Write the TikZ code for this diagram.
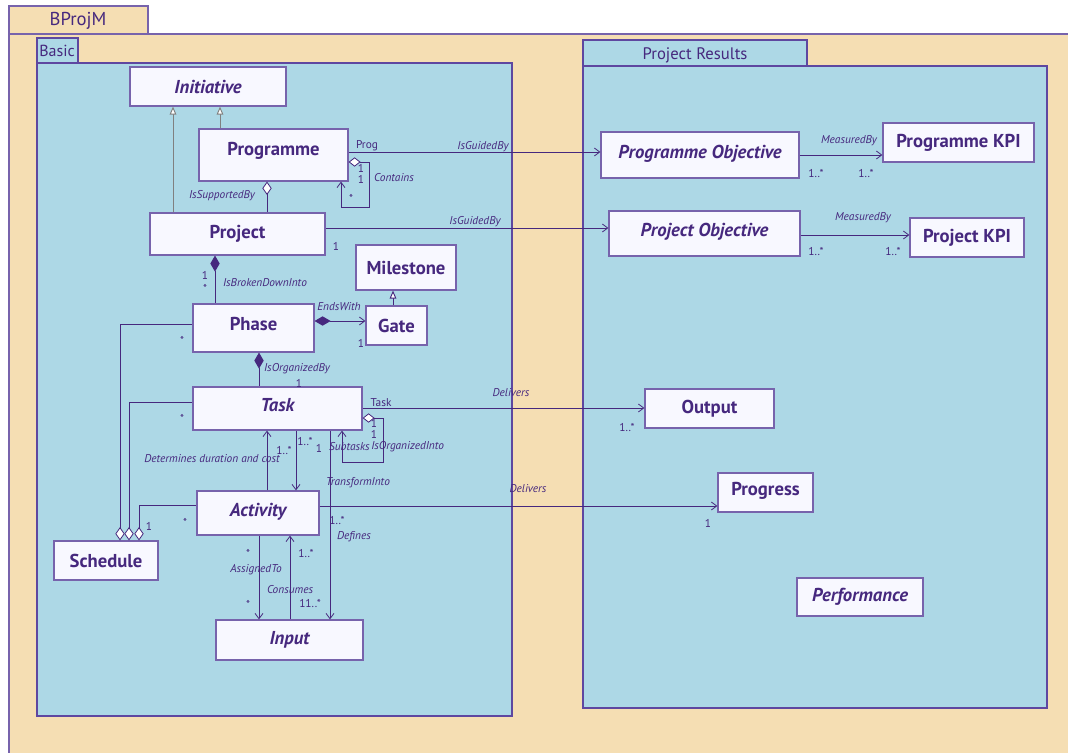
\documentclass[tikz,border=0pt]{standalone}
\usepackage{fontspec}
\setmainfont{PT Sans}
\usetikzlibrary{arrows.meta}
\definecolor{tanbg}{HTML}{F5DEB3}
\definecolor{pkgblue}{HTML}{ADD8E6}
\definecolor{clsfill}{HTML}{F8F8FF}
\definecolor{ink}{HTML}{46287E}
\definecolor{clsline}{HTML}{7763AC}
\definecolor{pkgline}{HTML}{5E47A0}

\begin{document}
\begin{tikzpicture}[x=0.75pt,y=-0.75pt,every node/.style={text=ink},
  cls/.style={draw=clsline,fill=clsfill,line width=0.9pt,inner sep=0pt,font=\fontsize{14}{16}\selectfont\bfseries},
  abscls/.style={cls,font=\fontsize{14}{16}\selectfont\bfseries\itshape},
  pkg/.style={draw=pkgline,fill=pkgblue,line width=0.8pt},
  pkgtitle/.style={inner sep=0pt,font=\fontsize{12.5}{14}\selectfont},
  lbl/.style={inner sep=0pt,font=\fontsize{8.5}{10}\selectfont\itshape},
  mult/.style={inner sep=0pt,font=\fontsize{8.5}{10}\selectfont},
  assoc/.style={draw=ink,line width=0.6pt,-{Straight Barb[length=4pt,width=6pt]}},
  gen/.style={draw=gray,line width=0.7pt,-{Triangle[open,fill=white,length=6pt,width=5pt]}},
  agg/.style={draw=ink,line width=0.6pt,{Diamond[open,fill=white,length=10pt,width=7pt]}-},
  aggnav/.style={draw=ink,line width=0.6pt,{Diamond[open,fill=white,length=9pt,width=7pt]}-{Straight Barb[length=4pt,width=6pt]}},
  comp/.style={draw=ink,line width=0.6pt,{Diamond[length=12pt,width=7pt]}-},
  compnav/.style={draw=ink,line width=0.6pt,{Diamond[length=12pt,width=7pt]}-{Straight Barb[length=4pt,width=6pt]}}]
\clip (0,0) rectangle (1068,753);
\fill[white] (0,0) rectangle (1068,753);
\draw[draw=clsline,fill=tanbg,line width=0.9pt] (9,34) rectangle (1090,780);
\draw[draw=clsline,fill=tanbg,line width=0.9pt] (9,6) rectangle (148,34);
\node[pkgtitle,font=\fontsize{14}{16}\selectfont] (bprojm) at (78,21) {BProjM};
\draw[pkg] (37,63) rectangle (512,716);
\draw[pkg] (37,38) rectangle (78,63);
\node[pkgtitle,anchor=west,font=\fontsize{12}{14}\selectfont] (basic) at (39,51) {Basic};
\draw[pkg] (583,66) rectangle (1047,708);
\draw[pkg] (583,40) rectangle (807,66);
\node[pkgtitle] (results) at (695,55) {Project Results};

\node[abscls,minimum width=117pt,minimum height=29.25pt] (init) at (208,86.5) {Initiative};
\node[cls,minimum width=111.75pt,minimum height=39pt,text depth=9pt] (prog) at (273.5,155) {Programme};
\node[cls,minimum width=131.25pt,minimum height=31.5pt] (proj) at (237.5,234) {Project};
\node[cls,minimum width=75pt,minimum height=33.75pt] (mile) at (406,267.5) {Milestone};
\node[cls,minimum width=90.75pt,minimum height=36pt,text depth=6pt] (phase) at (253.5,328) {Phase};
\node[cls,minimum width=45.75pt,minimum height=29.25pt] (gate) at (396.5,325.5) {Gate};
\node[abscls,minimum width=126.75pt,minimum height=32.25pt,text depth=5pt] (task) at (277.5,408.5) {Task};
\node[abscls,minimum width=91.5pt,minimum height=33pt,text depth=5pt] (act) at (258,513) {Activity};
\node[cls,minimum width=78pt,minimum height=29.25pt] (sched) at (106,560.5) {Schedule};
\node[abscls,minimum width=110.25pt,minimum height=30pt] (input) at (289.5,640) {Input};
\node[abscls,minimum width=148.5pt,minimum height=34.5pt,text depth=5pt] (progobj) at (700,155) {Programme Objective};
\node[cls,minimum width=113.25pt,minimum height=29.25pt] (progkpi) at (958.5,142.5) {Programme KPI};
\node[abscls,minimum width=143.25pt,minimum height=33.75pt,text depth=5pt] (projobj) at (704.5,233.5) {Project Objective};
\node[cls,minimum width=85.5pt,minimum height=29.25pt] (projkpi) at (967,237.5) {Project KPI};
\node[cls,minimum width=96.75pt,minimum height=29.25pt] (output) at (709.5,408.5) {Output};
\node[cls,minimum width=71.25pt,minimum height=29.25pt,text depth=5pt] (progress) at (765.5,492.5) {Progress};
\node[abscls,minimum width=94.5pt,minimum height=28.5pt] (perf) at (860,597) {Performance};

\draw[gen] (173,0 |- proj.north) -- (173,0 |- init.south);
\draw[gen] (220,0 |- prog.north) -- (220,0 |- init.south);
\draw[agg] (267,0 |- prog.south) -- (267,0 |- proj.north);
\draw[aggnav] (prog.east |- 0,162) -- (369,162) -- (369,207) -- (341,207) -- (341,0 |- prog.south);
\draw[assoc] (prog.east |- 0,152) -- (progobj.west |- 0,152);
\draw[assoc] (proj.east |- 0,228) -- (projobj.west |- 0,228);
\draw[assoc] (progobj.east |- 0,155) -- (progkpi.west |- 0,155);
\draw[assoc] (projobj.east |- 0,235) -- (projkpi.west |- 0,235);
\draw[comp] (215,0 |- proj.south) -- (215,0 |- phase.north);
\draw[gen,draw=ink] (393,0 |- gate.north) -- (393,0 |- mile.south);
\draw[compnav] (phase.east |- 0,321) -- (gate.west |- 0,321);
\draw[comp] (259,0 |- phase.south) -- (259,0 |- task.north);
\draw[aggnav] (task.east |- 0,418) -- (383,418) -- (383,462) -- (342,462) -- (342,0 |- task.south);
\draw[assoc] (task.east |- 0,408) -- (output.west |- 0,408);
\draw[assoc] (267,0 |- act.north) -- (267,0 |- task.south);
\draw[assoc] (296,0 |- task.south) -- (296,0 |- act.north);
\draw[assoc] (330,0 |- task.south) -- (330,0 |- input.north);
\draw[assoc] (259,0 |- act.south) -- (259,0 |- input.north);
\draw[assoc] (290,0 |- input.north) -- (290,0 |- act.south);
\draw[assoc] (act.east |- 0,506) -- (progress.west |- 0,506);
\draw[agg] (120,0 |- sched.north) -- (120,324) -- (phase.west |- 0,324);
\draw[agg] (129,0 |- sched.north) -- (129,402) -- (task.west |- 0,402);
\draw[agg] (139,0 |- sched.north) -- (139,505) -- (act.west |- 0,505);

\node[lbl] (supp) at (222,196) {IsSupportedBy};
\node[mult] (progrole) at (367,146) {Prog};
\node[lbl] (guided1) at (483,147) {IsGuidedBy};
\node[mult] (cont1) at (361,168) {1};
\node[mult] (cont2) at (361,179) {1};
\node[mult] (cont3) at (351,198) {*};
\node[lbl] (contains) at (394,178) {Contains};
\node[lbl] (guided2) at (475,222) {IsGuidedBy};
\node[mult] (projm) at (336,246) {1};
\node[lbl] (meas1) at (849,141) {MeasuredBy};
\node[mult] (meas1a) at (816,174) {1..*};
\node[mult] (meas1b) at (866,174) {1..*};
\node[lbl] (meas2) at (863,218) {MeasuredBy};
\node[mult] (meas2a) at (816,252) {1..*};
\node[mult] (meas2b) at (893,252) {1..*};
\node[mult] (brk1) at (205,275) {1};
\node[mult] (brk2) at (205,288) {*};
\node[lbl] (broken) at (265,283) {IsBrokenDownInto};
\node[lbl] (ends) at (339,307) {EndsWith};
\node[mult] (endsm) at (361,343) {1};
\node[lbl] (orgby) at (297,369) {IsOrganizedBy};
\node[mult] (orgbym) at (299,383) {1};
\node[mult] (sub1) at (374,423) {1};
\node[mult] (sub2) at (374,434) {1};
\node[lbl,anchor=east] (subtasks) at (370,447) {Subtasks};
\node[lbl,anchor=west] (orginto) at (371,447) {IsOrganizedInto};
\node[mult] (taskrole) at (381,403) {Task};
\node[lbl] (deliv1) at (511,393) {Delivers};
\node[mult] (deliv1m) at (627,428) {1..*};
\node[lbl] (determ) at (212,459) {Determines duration and cost};
\node[mult] (tam1) at (284,451) {1..*};
\node[mult] (tam2) at (305,442) {1..*};
\node[mult] (tam3) at (319,448) {1};
\node[lbl] (transf) at (358,483) {TransformInto};
\node[mult] (transfm) at (337,521) {1..*};
\node[lbl] (defines) at (354,537) {Defines};
\node[mult] (asg1) at (248,553) {*};
\node[lbl] (assigned) at (256,570) {AssignedTo};
\node[mult] (asg2) at (248,604) {*};
\node[mult] (cons1) at (306,554) {1..*};
\node[lbl] (consumes) at (290,590) {Consumes};
\node[mult] (cons2) at (310,604) {11..*};
\node[lbl] (deliv2) at (528,489) {Delivers};
\node[mult] (deliv2m) at (708,523) {1};
\node[mult] (sph) at (182,340) {*};
\node[mult] (stk) at (182,418) {*};
\node[mult] (sac) at (185,522) {*};
\node[mult] (sone) at (149,526) {1};
\end{tikzpicture}
\end{document}
